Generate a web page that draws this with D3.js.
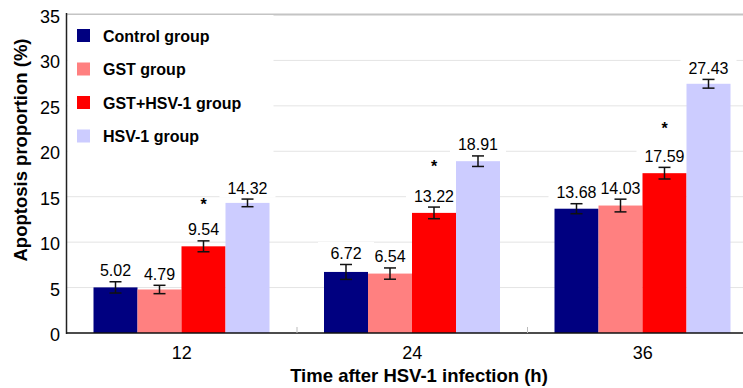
<!DOCTYPE html>
<html>
<head>
<meta charset="utf-8">
<script src="https://cdn.jsdelivr.net/npm/d3@7"></script>
<style>
  html, body { margin: 0; padding: 0; background: #fff; }
  svg { display: block; font-family: "Liberation Sans", Arial, sans-serif; }
</style>
</head>
<body>
<svg id="chart" width="743" height="388"></svg>
<script>
// Apoptosis proportion by time point and group
const timePoints = ["12", "24", "36"];
const groups = ["Control group", "GST group", "GST+HSV-1 group", "HSV-1 group"];
const colors = ["#000080", "#ff8080", "#ff0000", "#ccccff"];
const means = [
  [5.02, 4.79, 9.54, 14.32],
  [6.72, 6.54, 13.22, 18.91],
  [13.68, 14.03, 17.59, 27.43]
];
const errors = [
  [0.62, 0.46, 0.60, 0.42],
  [0.82, 0.62, 0.64, 0.58],
  [0.55, 0.70, 0.64, 0.48]
];
// height of the significance star drawn above the GST+HSV-1 bar
const starLevels = [14.5, 18.7, 22.9];
const yTicks = [0, 5, 10, 15, 20, 25, 30, 35];

const svg = d3.select("#chart");
const W = 743;
const plotLeft = 66.5, plotBottom = 333, plotTop = 15;

const y = d3.scaleLinear().domain([0, 35]).range([plotBottom, plotTop]);
const x0 = d3.scaleBand().domain(timePoints).range([plotLeft, plotLeft + 3 * 230.5]).padding(0);
const x1 = d3.scaleBand().domain(groups).range([27, 230.5 - 27.5]).padding(0);

// gridlines
svg.append("g").selectAll("line").data(yTicks.filter(t => t > 0 && t < 35)).join("line")
  .attr("x1", plotLeft).attr("x2", W)
  .attr("y1", d => y(d)).attr("y2", d => y(d))
  .attr("stroke", "#e4e4e4").attr("stroke-width", 1);

// top frame line
svg.append("line").attr("x1", plotLeft).attr("x2", W).attr("y1", y(35) - 0.5).attr("y2", y(35) - 0.5)
  .attr("stroke", "#c4c4c4").attr("stroke-width", 2);

// white boxes behind the value labels
const flat = [];
means.forEach((row, i) => row.forEach((v, j) => flat.push({ t: timePoints[i], g: groups[j], v, e: errors[i][j], c: colors[j] })));

const labelBaseline = d => y(d.v + d.e) - 5.5;
svg.append("g").selectAll("rect").data(flat).join("rect")
  .attr("x", d => x0(d.t) + x1(d.g) + x1.bandwidth() / 2 - 28)
  .attr("width", 56)
  .attr("y", d => labelBaseline(d) - 17)
  .attr("height", 21)
  .attr("fill", "#fff");

// legend background
svg.append("rect").attr("x", plotLeft + 1).attr("y", plotTop).attr("width", 206).attr("height", 145).attr("fill", "#fff");

// bars
svg.append("g").selectAll("rect").data(flat).join("rect")
  .attr("x", d => x0(d.t) + x1(d.g))
  .attr("width", x1.bandwidth())
  .attr("y", d => y(d.v))
  .attr("height", d => plotBottom - y(d.v))
  .attr("fill", d => d.c);

// error bars
const eb = svg.append("g").attr("stroke", "#111").attr("stroke-width", 1.5).attr("fill", "none");
flat.forEach(d => {
  const cx = x0(d.t) + x1(d.g) + x1.bandwidth() / 2;
  const yt = y(d.v + d.e), yb = y(d.v - d.e);
  eb.append("line").attr("x1", cx).attr("x2", cx).attr("y1", yt).attr("y2", yb);
  eb.append("line").attr("x1", cx - 6).attr("x2", cx + 6).attr("y1", yt).attr("y2", yt);
  eb.append("line").attr("x1", cx - 6).attr("x2", cx + 6).attr("y1", yb).attr("y2", yb);
});

// value labels
svg.append("g").selectAll("text").data(flat).join("text")
  .attr("x", d => x0(d.t) + x1(d.g) + x1.bandwidth() / 2)
  .attr("y", d => labelBaseline(d))
  .attr("text-anchor", "middle")
  .attr("font-size", 16)
  .attr("fill", "#000")
  .text(d => d.v.toFixed(2));

// significance stars
svg.append("g").selectAll("text").data(starLevels).join("text")
  .attr("x", (d, i) => x0(timePoints[i]) + x1(groups[2]) + x1.bandwidth() / 2)
  .attr("y", d => y(d) + 9)
  .attr("text-anchor", "middle")
  .attr("font-size", 16)
  .attr("font-weight", "bold")
  .attr("fill", "#000")
  .text("*");

// axes lines
svg.append("line").attr("x1", plotLeft).attr("x2", plotLeft).attr("y1", plotTop - 2).attr("y2", plotBottom + 1)
  .attr("stroke", "#222").attr("stroke-width", 1.5);
svg.append("line").attr("x1", plotLeft).attr("x2", W).attr("y1", plotBottom).attr("y2", plotBottom)
  .attr("stroke", "#111").attr("stroke-width", 1.5);

// small separators between time points
svg.append("g").selectAll("line").data(timePoints.slice(1)).join("line")
  .attr("x1", d => x0(d)).attr("x2", d => x0(d))
  .attr("y1", plotBottom - 6).attr("y2", plotBottom)
  .attr("stroke", "#bbb").attr("stroke-width", 1);

// y tick labels
svg.append("g").selectAll("text").data(yTicks).join("text")
  .attr("x", 60)
  .attr("y", d => y(d) + 8)
  .attr("text-anchor", "end")
  .attr("font-size", 18)
  .attr("fill", "#000")
  .text(d => d);

// x tick labels
svg.append("g").selectAll("text").data(timePoints).join("text")
  .attr("x", d => x0(d) + x0.bandwidth() / 2)
  .attr("y", 358.5)
  .attr("text-anchor", "middle")
  .attr("font-size", 18)
  .attr("fill", "#000")
  .text(d => d);

// axis titles
svg.append("text")
  .attr("x", 419).attr("y", 382)
  .attr("text-anchor", "middle")
  .attr("font-size", 18.5).attr("font-weight", "bold").attr("fill", "#000")
  .text("Time after HSV-1 infection (h)");
svg.append("text")
  .attr("transform", "translate(26.5,150) rotate(-90)")
  .attr("text-anchor", "middle")
  .attr("font-size", 18.5).attr("font-weight", "bold").attr("fill", "#000")
  .text("Apoptosis proportion (%)");

// legend
const lg = svg.append("g").selectAll("g").data(groups).join("g")
  .attr("transform", (d, i) => `translate(77,${35.5 + i * 33.5})`);
lg.append("rect").attr("x", 0).attr("y", -6.5).attr("width", 13).attr("height", 13)
  .attr("fill", (d, i) => colors[i]);
lg.append("text").attr("x", 26).attr("y", 6)
  .attr("font-size", 16).attr("font-weight", "bold").attr("fill", "#000")
  .text(d => d);
</script>
</body>
</html>
